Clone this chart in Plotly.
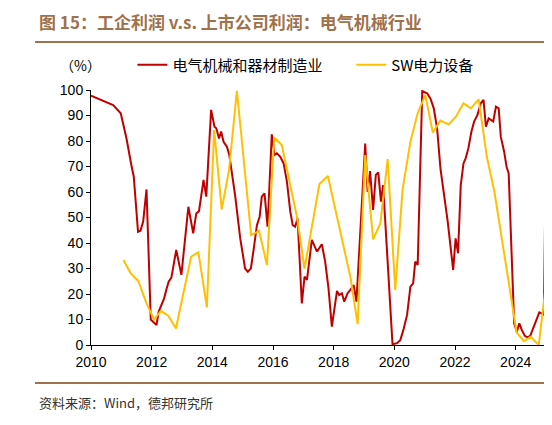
import plotly.graph_objects as go

# 电气机械和器材制造业 (工企利润分位, %)
red_x = [2010.0, 2010.73, 2010.98,
         2011.17, 2011.33, 2011.41, 2011.55, 2011.63, 2011.72, 2011.83, 2011.97,
         2012.16, 2012.23, 2012.32, 2012.41, 2012.49, 2012.56, 2012.65, 2012.81, 2012.98,
         2013.21, 2013.37, 2013.47, 2013.56, 2013.71, 2013.8, 2013.96,
         2014.07, 2014.13, 2014.22, 2014.29, 2014.37, 2014.48, 2014.56, 2014.75, 2014.92,
         2015.08, 2015.17, 2015.27, 2015.36, 2015.47, 2015.56, 2015.63, 2015.72, 2015.82, 2015.96,
         2016.05, 2016.13, 2016.24, 2016.35, 2016.46, 2016.57, 2016.65, 2016.73, 2016.81, 2016.95,
         2017.04, 2017.12, 2017.28, 2017.45, 2017.61, 2017.72, 2017.83, 2017.94,
         2018.11, 2018.18, 2018.27, 2018.35, 2018.46, 2018.55, 2018.66, 2018.75,
         2019.04, 2019.12, 2019.2, 2019.3, 2019.39, 2019.47, 2019.56, 2019.63, 2019.94,
         2020.09, 2020.2, 2020.31, 2020.42, 2020.53, 2020.62, 2020.69, 2020.77, 2020.92,
         2021.08, 2021.19, 2021.3, 2021.41, 2021.52, 2021.76, 2021.94,
         2022.02, 2022.1, 2022.19, 2022.28, 2022.35, 2022.44, 2022.54, 2022.63, 2022.74, 2022.85, 2022.94,
         2023.02, 2023.11, 2023.18, 2023.26, 2023.35, 2023.44, 2023.51, 2023.62, 2023.7, 2023.77, 2023.95,
         2024.04, 2024.12, 2024.2, 2024.3, 2024.39, 2024.48, 2024.58, 2024.67, 2024.78, 2024.85, 2024.93,
         2024.98]
red_y = [97.8, 94.1, 90.9,
         81, 70.6, 66, 44.4, 44.8, 48.4, 61, 10,
         7.8, 13, 15.7, 18.3, 22, 24.8, 26.4, 37.3, 27.5,
         54.2, 43.8, 51.6, 52.5, 64.7, 58.2, 92.2,
         85.6, 85, 81, 83.7, 79.7, 77.8, 74.5, 58.8, 41.8,
         30, 28.7, 30, 37.3, 47, 50.3, 58.2, 59.5, 46.4, 82.6,
         74.5, 75.2, 73.8, 71.2, 64, 52.3, 47, 46.4, 49.7, 16.3,
         26.8, 25.5, 41.2, 36.6, 39.5, 32.7, 22.2, 7.2,
         21.2, 19.6, 20.3, 17, 20.3, 21.6, 23.5, 17,
         79, 60, 68.2, 53, 66.7, 67.7, 56.2, 62.7, 0.3,
         0.7, 2, 6.5, 11.8, 22.9, 24.2, 32.7, 31.4, 99.6,
         98.7, 96.7, 92.8, 85, 69.3, 48.4, 29.4,
         41.8, 36, 62.7, 71.2, 73.2, 77.1, 83.6, 87.6, 90.2, 94.8, 96.1,
         85.6, 88.9, 88.2, 87.6, 93.5, 92.8, 81.7, 75.8, 69.9, 67.3, 8.5,
         5.2, 8.5, 5.9, 3.6, 3, 3.6, 6.8, 9.8, 12.8, 12.4, 11.8,
         60]

# SW电力设备 (上市公司利润分位, %)
sw_x = [2011.07, 2011.31, 2011.56, 2011.83,
        2012.08, 2012.3, 2012.55, 2012.8,
        2013.3, 2013.54, 2013.82,
        2014.06, 2014.31, 2014.55, 2014.81,
        2015.28, 2015.54, 2015.8,
        2016.04, 2016.29, 2016.79,
        2017.04, 2017.53, 2017.81,
        2018.55, 2018.79,
        2019.04, 2019.3, 2019.54, 2019.78,
        2020.03, 2020.27, 2020.53, 2020.77,
        2021.02, 2021.27, 2021.52, 2021.79,
        2022.03, 2022.28, 2022.52, 2022.78,
        2023.05, 2023.3,
        2024.03, 2024.27, 2024.5, 2024.76,
        2024.99]
sw_y = [33.3, 28.1, 25.1, 16.3,
        10, 13.3, 11.5, 6.5,
        34.6, 36.4, 14.8,
        84.3, 53.2, 68.6, 99.7,
        43.1, 44.8, 31.4,
        81.4, 78.4, 50.3,
        30, 63.1, 66.3,
        26.8, 8.2,
        74.5, 41.4, 47.7, 72.9,
        21.6, 60.8, 79.7, 90.9,
        98, 83.3, 88, 86.5,
        89.5, 94.8, 92.8, 96.3,
        73.8, 60.1,
        5, 1.5, 3.2, 0,
        23]

year_ticks = [2010, 2012, 2014, 2016, 2018, 2020, 2022, 2024]

TITLE = "图 15：工企利润 v.s. 上市公司利润：电气机械行业"
SOURCE = "资料来源：Wind，德邦研究所"
BROWN = "#a0714a"
CJK = "Noto Sans CJK SC"
LATIN = "Liberation Sans, Arial"

fig = go.Figure()
fig.add_trace(go.Scatter(x=red_x, y=red_y, mode="lines", name="电气机械和器材制造业",
                         line=dict(color="#c00000", width=2), legend="legend"))
fig.add_trace(go.Scatter(x=sw_x, y=sw_y, mode="lines", name="SW电力设备",
                         line=dict(color="#ffc000", width=2), legend="legend2"))

legend_style = dict(orientation="h", y=1.098, xanchor="left", yanchor="middle",
                    font=dict(family=CJK, size=15, color="black"),
                    bgcolor="rgba(0,0,0,0)")

# the page adds an 8px body margin, so the figure is laid out 8px up/left
fig.update_layout(
    width=552, height=425,
    margin=dict(l=83, r=14, t=82, b=88),
    paper_bgcolor="white", plot_bgcolor="white",
    font=dict(family=LATIN, size=14, color="black"),
    showlegend=True,
    legend=dict(x=0.091, **legend_style),
    legend2=dict(x=0.572, **legend_style),
)

fig.update_xaxes(range=[2010, 2025], tickvals=year_ticks, ticktext=[str(t) for t in year_ticks],
                 showline=True, linecolor="black", linewidth=1, ticks="outside", ticklen=4,
                 tickcolor="black", showgrid=False, zeroline=False,
                 tickfont=dict(family=LATIN, size=14, color="black"))
fig.update_yaxes(range=[0, 100], dtick=10, showline=True, linecolor="black", linewidth=1,
                 ticks="outside", ticklen=4, tickcolor="black", showgrid=False, zeroline=False,
                 tickfont=dict(family=LATIN, size=14, color="black"))

# title, rules and source
fig.add_annotation(text="<b>" + TITLE + "</b>", xref="paper", yref="paper",
                   x=-0.119, y=1.267, xanchor="left", yanchor="middle", showarrow=False,
                   font=dict(family=CJK, size=17, color=BROWN))
fig.add_shape(type="line", xref="paper", yref="paper", x0=-0.123, x1=1.04, y0=1.188, y1=1.188,
              line=dict(color=BROWN, width=2))
fig.add_shape(type="line", xref="paper", yref="paper", x0=-0.123, x1=1.04, y0=-0.149, y1=-0.149,
              line=dict(color=BROWN, width=2))
fig.add_annotation(text=SOURCE, xref="paper", yref="paper", x=-0.119, y=-0.227,
                   xanchor="left", yanchor="middle", showarrow=False,
                   font=dict(family=CJK, size=13, color="#333333"))
fig.add_annotation(text="（%）", xref="paper", yref="paper", x=-0.072, y=1.098,
                   xanchor="left", yanchor="middle", showarrow=False,
                   font=dict(family=CJK, size=14, color="black"))

fig.write_html("out.html")
